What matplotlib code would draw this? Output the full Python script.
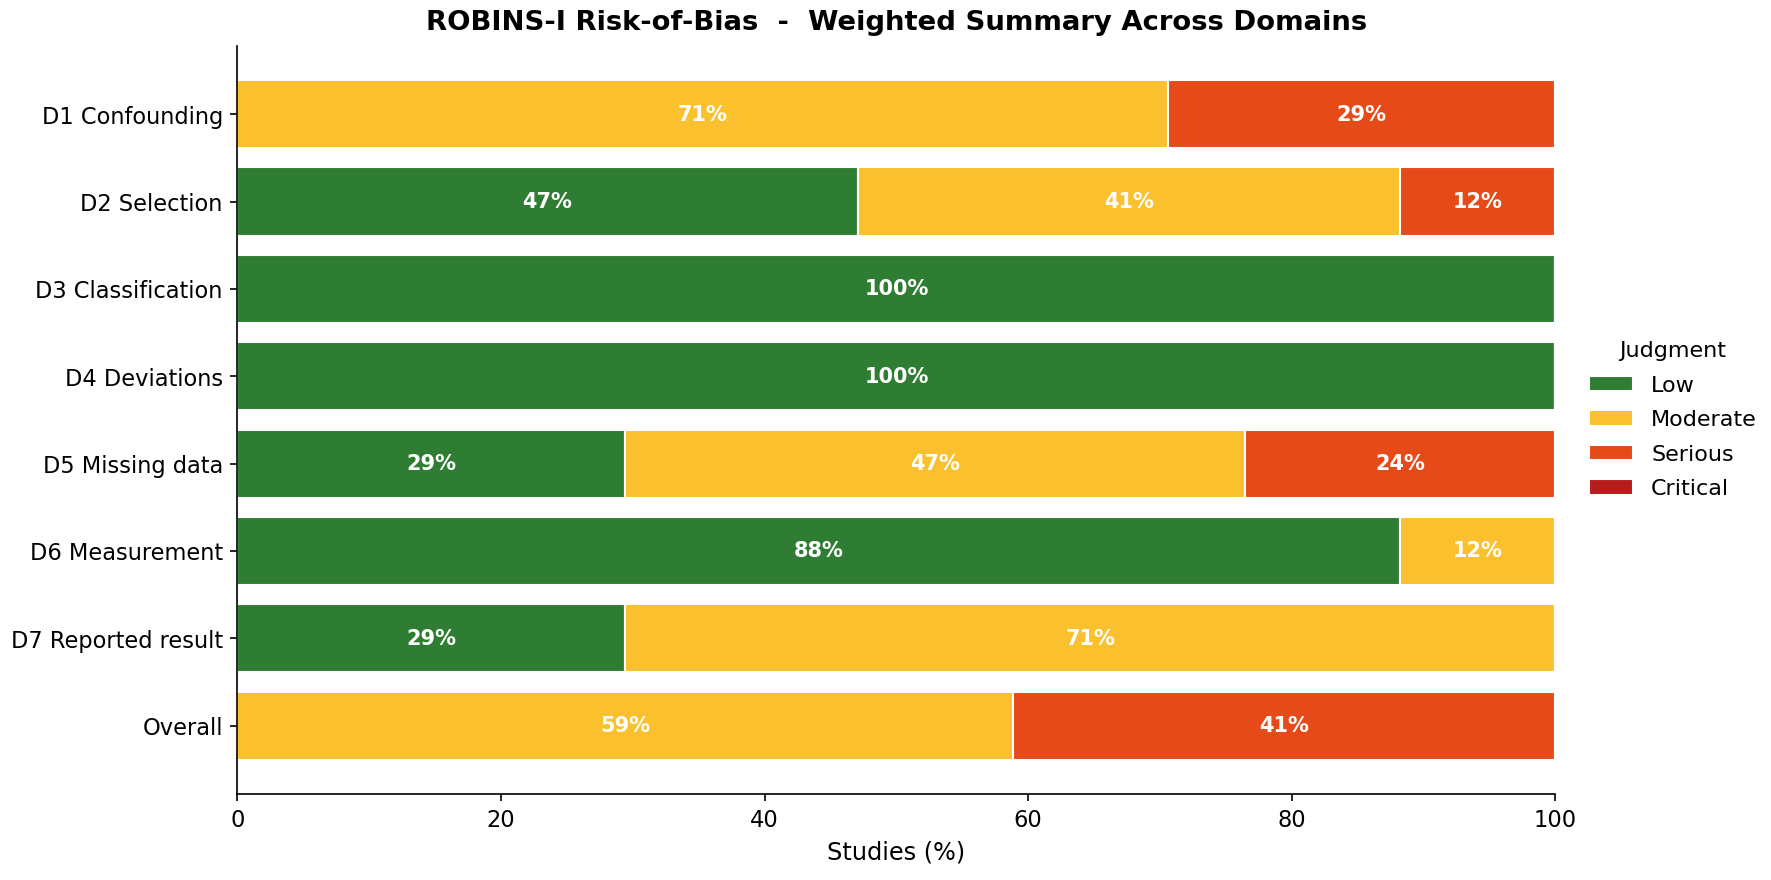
import numpy as np
import matplotlib.pyplot as plt

# ROBINS-I judgments, 17 studies per domain (counts)
domains = ["D1 Confounding", "D2 Selection", "D3 Classification", "D4 Deviations",
           "D5 Missing data", "D6 Measurement", "D7 Reported result", "Overall"]
judgments = ["Low", "Moderate", "Serious", "Critical"]
colors = ["#2e7d32", "#fbc02d", "#e64a19", "#b71c1c"]

low      = [0, 8, 17, 17, 5, 15, 5, 0]
moderate = [12, 7, 0, 0, 8, 2, 12, 10]
serious  = [5, 2, 0, 0, 4, 0, 0, 7]
critical = [0, 0, 0, 0, 0, 0, 0, 0]

counts = np.array([low, moderate, serious, critical], dtype=float)
pct = counts / counts.sum(axis=0) * 100

fig = plt.figure(figsize=(11.81, 5.87), dpi=150)
ax = fig.add_axes([0.134, 0.098, 0.744, 0.849])

y = np.arange(len(domains))[::-1]
left = np.zeros(len(domains))
for k, name in enumerate(judgments):
    ax.barh(y, pct[k], left=left, height=0.78, color=colors[k],
            edgecolor="white", linewidth=1, label=name)
    for i in range(len(domains)):
        if pct[k, i] >= 5:
            ax.text(left[i] + pct[k, i] / 2, y[i], f"{pct[k, i]:.0f}%",
                    ha="center", va="center", color="white",
                    fontweight="bold", fontsize=10)
    left += pct[k]

ax.set_yticks(y)
ax.set_yticklabels(domains, fontsize=10.8)
ax.set_xlim(0, 100)
ax.tick_params(axis="x", labelsize=10.8)
ax.set_xlabel("Studies (%)", fontsize=11.5)
ax.spines["top"].set_visible(False)
ax.spines["right"].set_visible(False)
ax.set_title("ROBINS-I Risk-of-Bias  -  Weighted Summary Across Domains",
             fontsize=13.2, fontweight="bold", pad=8)

ax.legend(title="Judgment", loc="center left", bbox_to_anchor=(1.01, 0.5),
          frameon=False, fontsize=10.7, title_fontsize=10.7, labelspacing=0.65)

fig.savefig("out.png", dpi=150)
